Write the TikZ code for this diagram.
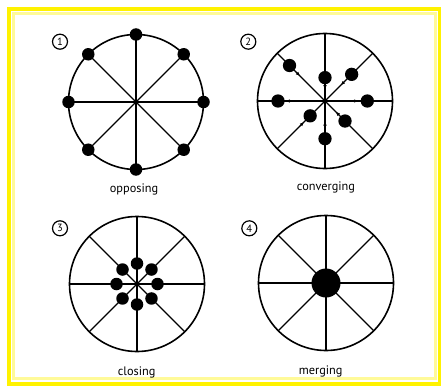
\documentclass[tikz,border=0pt]{standalone}
\usepackage{fontspec}
\setmainfont{PT Sans}
\usetikzlibrary{arrows.meta}
\begin{document}
\begin{tikzpicture}[x=1pt,y=1pt,
  wheel/.style={line width=1.6pt},
  spoke/.style={line width=1.3pt},
  dot/.style={circle,fill=black,inner sep=0pt,minimum size=12.5pt},
  numc/.style={circle,draw,line width=1.2pt,minimum size=15pt,inner sep=0pt,font=\fontsize{10.5}{10.5}\selectfont},
  lab/.style={font=\fontsize{12.3}{13}\selectfont},
  arr/.style={-{Triangle[length=3.5pt,width=3.2pt]},line width=0.8pt}]
\useasboundingbox (0,0) rectangle (441,389);
\fill[white] (0,0) rectangle (441,389);
% yellow frame
\draw[yellow,line width=4pt] (9,5.5) rectangle (439.5,380);
\draw[yellow!40,line width=3pt] (13.5,10.5) rectangle (435.5,375);
% centres
\def\R{67.5}
\coordinate (c1) at (136,287);
\coordinate (c2) at (325,288);
\coordinate (c3) at (137,105);
\coordinate (c4) at (326,106);
% wheels and spokes
\foreach \c in {c1,c2,c3,c4}{
  \draw[wheel] (\c) circle (\R);
  \foreach \a in {0,45,...,315}
    \draw[spoke] (\c) -- ([shift={(\a:\R)}]\c);
}
% panel 1: opposing
\foreach \a [count=\i] in {0,45,...,315}
  \node[dot] (p\i) at ([shift={(\a:\R)}]c1) {};
\node[numc] (n1) at (60,347.3) {1};
\node[lab] (l1) at (134,200) {opposing};
% panel 2: converging
\foreach \a/\d/\t [count=\i] in {90/23.4/12.3, 45/37.7/23, 0/42.3/26.7, -45/28.3/15.8, -90/37.7/21, -135/21/30.4, 180/47/32.7, 135/50.2/36}{
  \node[dot,minimum size=13.3pt] (q\i) at ([shift={(\a:\d)}]c2) {};
  \coordinate (qt\i) at ([shift={(\a:\t+5)}]c2);
  \coordinate (qh\i) at ([shift={(\a:\t)}]c2);
  \draw[arr] (qt\i) -- (qh\i);
}
\node[numc] (n2) at (248.3,347.3) {2};
\node[lab] (l2) at (326,201.3) {converging};
% panel 3: closing
\foreach \a [count=\i] in {0,45,...,315}
  \node[dot] (r\i) at ([shift={(\a:20.5)}]c3) {};
\node[numc] (n3) at (60,160.7) {3};
\node[lab] (l3) at (136.7,16.7) {closing};
% panel 4: merging
\node[dot,minimum size=29pt] (m) at (c4) {};
\node[numc] (n4) at (249.3,160.7) {4};
\node[lab] (l4) at (320.7,17.3) {merging};
\end{tikzpicture}
\end{document}
